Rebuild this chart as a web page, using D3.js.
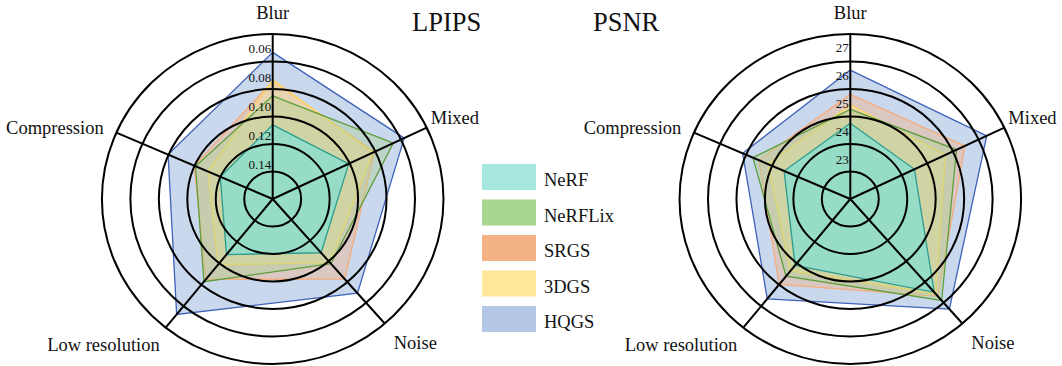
<!DOCTYPE html>
<html>
<head>
<meta charset="utf-8">
<title>LPIPS / PSNR radar</title>
<script src="https://d3js.org/d3.v7.min.js" charset="utf-8"></script>
<style>
  body { margin: 0; background: #fff; }
  text { font-family: "Liberation Serif", "Times New Roman", serif; fill: #111; }
  .ring { fill: none; stroke: #000; stroke-width: 2px; }
  .axis { stroke: #000; stroke-width: 2px; }
  .tick { font-size: 13px; }
  .axis-name { font-size: 18.5px; }
  .title { font-size: 26.5px; }
  .legend-text { font-size: 18.5px; }
</style>
</head>
<body>
<div id="chart"></div>
<script>
// axes, clockwise from the top
var axisNames = ["Blur", "Mixed", "Noise", "Low resolution", "Compression"];
var methods = ["NeRF", "NeRFLix", "SRGS", "3DGS", "HQGS"];

// values in axis order, one row per method
var lpipsValues = [
  [0.113, 0.108, 0.115, 0.115, 0.126],
  [0.093, 0.075, 0.105, 0.091, 0.108],
  [0.083, 0.089, 0.091, 0.093, 0.107],
  [0.082, 0.090, 0.106, 0.106, 0.117],
  [0.063, 0.067, 0.078, 0.062, 0.088]
];
var psnrValues = [
  [24.28, 24.03, 26.00, 24.62, 24.07],
  [24.78, 25.65, 26.39, 25.12, 25.25],
  [25.32, 25.97, 26.19, 25.50, 25.03],
  [24.94, 25.22, 26.08, 24.88, 24.68],
  [26.19, 26.81, 26.80, 26.16, 25.64]
];
var lpipsTicks = [0.06, 0.08, 0.10, 0.12, 0.14];
var psnrTicks = [23, 24, 25, 26, 27];

// styles
var legendColors = ["#a6e8e0", "#a9d68e", "#f4b183", "#ffe699", "#b4c7e7"];
var fillColors = ["#7fe0d4", "#a9d18e", "#f4b183", "#ffe699", "#b4c7e7"];
var fillOpacity = [0.7, 0.4, 0.4, 0.4, 0.7];
var strokeColors = ["#2c9e90", "#5f9e3c", "#f5ad7e", "#ffd75e", "#3d62b8"];
var drawOrder = [4, 2, 3, 1, 0];

var W = 1062, H = 366;
var angles = [0, 64.4, 139, 218.8, 293.7].map(function(d) { return d * Math.PI / 180; });
var sx = 1.035;           // rings are a bit wider than tall
var ringStep = 27.5, ringCount = 6;
var outerR = ringStep * ringCount;

var svg = d3.select('#chart').append('svg')
  .attr('width', W).attr('height', H)
  .style('display', 'block');

function pt(cx, cy, a, r) {
  return [cx + sx * r * Math.sin(a), cy - r * Math.cos(a)];
}

// axis name placement, offsets from centre
var nameOffsets = [
  {dx: 0, dy: -186, anchor: 'middle'},
  {dx: 158, dy: -81, anchor: 'start'},
  {dx: 121, dy: 144, anchor: 'start'},
  {dx: -113, dy: 146, anchor: 'end'},
  {dx: -169, dy: -71, anchor: 'end'}
];

function radar(cx, cy, values, ticks, rScale, tickFmt) {
  var g = svg.append('g');

  var line = d3.line()
    .x(function(d, i) { return pt(cx, cy, angles[i], rScale(d))[0]; })
    .y(function(d, i) { return pt(cx, cy, angles[i], rScale(d))[1]; })
    .curve(d3.curveLinearClosed);

  g.selectAll('.area').data(drawOrder).enter()
    .append('path')
    .attr('class', 'area')
    .attr('d', function(m) { return line(values[m]); })
    .attr('fill', function(m) { return fillColors[m]; })
    .attr('fill-opacity', function(m) { return fillOpacity[m]; })
    .attr('stroke', function(m) { return strokeColors[m]; })
    .attr('stroke-width', 1.3)
    .attr('stroke-linejoin', 'miter');

  // grid rings
  g.selectAll('.ring').data(d3.range(1, ringCount + 1)).enter()
    .append('ellipse')
    .attr('class', 'ring')
    .attr('cx', cx).attr('cy', cy)
    .attr('rx', function(k) { return sx * k * ringStep; })
    .attr('ry', function(k) { return k * ringStep; });

  // axis spokes
  g.selectAll('.axis').data(angles).enter()
    .append('line')
    .attr('class', 'axis')
    .attr('x1', cx).attr('y1', cy)
    .attr('x2', function(a) { return pt(cx, cy, a, outerR)[0]; })
    .attr('y2', function(a) { return pt(cx, cy, a, outerR)[1]; });

  // radial tick labels
  g.selectAll('.tick').data(ticks).enter()
    .append('text')
    .attr('class', 'tick')
    .attr('x', cx - 1.5)
    .attr('y', function(t) { return cy - rScale(t); })
    .attr('dy', '0.35em')
    .attr('text-anchor', 'end')
    .text(tickFmt);

  // axis names
  g.selectAll('.axis-name').data(axisNames).enter()
    .append('text')
    .attr('class', 'axis-name')
    .attr('x', function(d, i) { return cx + nameOffsets[i].dx; })
    .attr('y', function(d, i) { return cy + nameOffsets[i].dy; })
    .attr('dy', '0.35em')
    .attr('text-anchor', function(d, i) { return nameOffsets[i].anchor; })
    .text(function(d) { return d; });
}

var lpipsR = d3.scaleLinear().domain([0.14, 0.06]).range([35, 151]);
var psnrR = d3.scaleLinear().domain([23, 27]).range([40, 151.5]);

radar(272.7, 199, lpipsValues, lpipsTicks, lpipsR, d3.format('.2f'));
radar(850.3, 199, psnrValues, psnrTicks, psnrR, d3.format('d'));

// titles
svg.append('text').attr('class', 'title').attr('x', 412).attr('y', 31).text('LPIPS');
svg.append('text').attr('class', 'title').attr('x', 593).attr('y', 31).text('PSNR');

// legend
var legend = svg.append('g').attr('transform', 'translate(482,164)');
var item = legend.selectAll('.item').data(methods).enter()
  .append('g')
  .attr('transform', function(d, i) { return 'translate(0,' + (i * 35.5) + ')'; });
item.append('rect')
  .attr('width', 54).attr('height', 26)
  .attr('fill', function(d, i) { return legendColors[i]; });
item.append('text')
  .attr('class', 'legend-text')
  .attr('x', 62).attr('y', 16)
  .attr('dy', '0.35em')
  .text(function(d) { return d; });
</script>
</body>
</html>
